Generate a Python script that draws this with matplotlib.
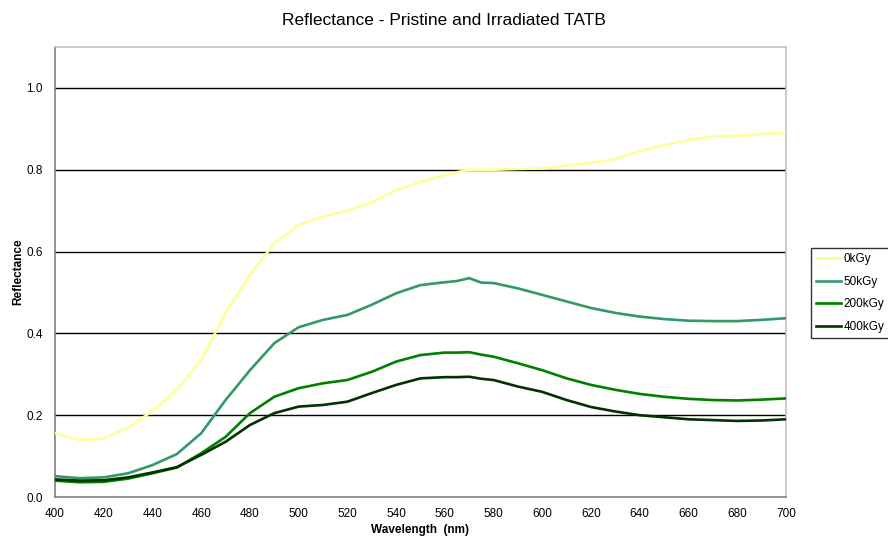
import matplotlib
matplotlib.use("Agg")
import matplotlib.pyplot as plt

plt.rcParams['font.family'] = ['Liberation Sans', 'DejaVu Sans']

wavelength = [400, 410, 420, 430, 440, 450, 460, 470, 480, 490, 500, 510, 520, 530, 540,
              550, 560, 565, 570, 575, 580, 590, 600, 610, 620, 630, 640, 650, 660, 670,
              680, 690, 700]

r_0kGy = [0.156, 0.139, 0.143, 0.170, 0.210, 0.262, 0.335, 0.450, 0.543, 0.620, 0.665, 0.685,
          0.700, 0.720, 0.750, 0.770, 0.787, 0.794, 0.800, 0.800, 0.800, 0.802, 0.803, 0.810,
          0.817, 0.826, 0.845, 0.860, 0.873, 0.881, 0.883, 0.887, 0.890]
r_50kGy = [0.051, 0.046, 0.048, 0.058, 0.078, 0.105, 0.156, 0.237, 0.310, 0.376, 0.415, 0.433,
           0.445, 0.470, 0.498, 0.518, 0.525, 0.528, 0.535, 0.524, 0.523, 0.510, 0.494, 0.478,
           0.462, 0.450, 0.441, 0.435, 0.431, 0.430, 0.430, 0.433, 0.437]
r_200kGy = [0.040, 0.036, 0.037, 0.045, 0.058, 0.072, 0.107, 0.147, 0.205, 0.245, 0.266, 0.278,
            0.286, 0.306, 0.331, 0.347, 0.353, 0.353, 0.354, 0.348, 0.343, 0.327, 0.310, 0.290,
            0.274, 0.262, 0.252, 0.245, 0.240, 0.237, 0.236, 0.238, 0.241]
r_400kGy = [0.043, 0.040, 0.041, 0.048, 0.060, 0.073, 0.103, 0.135, 0.176, 0.205, 0.221, 0.225,
            0.233, 0.254, 0.274, 0.290, 0.293, 0.293, 0.294, 0.289, 0.286, 0.270, 0.257, 0.237,
            0.220, 0.209, 0.200, 0.195, 0.190, 0.188, 0.186, 0.187, 0.190]

series = [("0kGy", r_0kGy, "#FFFF99"),
          ("50kGy", r_50kGy, "#339966"),
          ("200kGy", r_200kGy, "#008000"),
          ("400kGy", r_400kGy, "#003300")]

x_ticks = list(range(400, 701, 20))
y_ticks = [0.0, 0.2, 0.4, 0.6, 0.8, 1.0]

fig = plt.figure(figsize=(8.88, 5.38), dpi=100)
ax = fig.add_axes([0.062, 0.0762, 0.823, 0.8364])

for yv in y_ticks[1:]:
    ax.axhline(yv, color="black", lw=1.0, zorder=1)

for name, vals, col in series:
    ax.plot(wavelength, vals, color=col, lw=1.9, label=name, zorder=3)

ax.set_xlim(400, 700)
ax.set_ylim(0, 1.1)
ax.set_xticks(x_ticks)
ax.set_yticks(y_ticks)
ax.set_yticklabels([f"{v:.1f}" for v in y_ticks])
ax.tick_params(axis="x", length=0, labelsize=8.5, pad=8)
ax.tick_params(axis="y", length=0, labelsize=8.5, pad=9)

for side in ["left", "bottom"]:
    ax.spines[side].set_color("#808080")
    ax.spines[side].set_linewidth(1.2)
for side in ["top", "right"]:
    ax.spines[side].set_color("#c0c0c0")
    ax.spines[side].set_linewidth(1.2)

ax.set_xlabel("Wavelength  (nm)", fontsize=8.5, fontweight="bold", labelpad=3)
ax.set_ylabel("Reflectance", fontsize=8.5, fontweight="bold", labelpad=1)
fig.suptitle("Reflectance - Pristine and Irradiated TATB", fontsize=12.5, y=0.975)

leg = ax.legend(loc="center left", bbox_to_anchor=(1.034, 0.453), fontsize=8.5,
                frameon=True, fancybox=False, edgecolor="black", handlelength=2.1,
                borderpad=0.45, labelspacing=0.9, handletextpad=0.2, borderaxespad=0)
leg.get_frame().set_linewidth(1.0)

fig.savefig("out.png", dpi=100)
